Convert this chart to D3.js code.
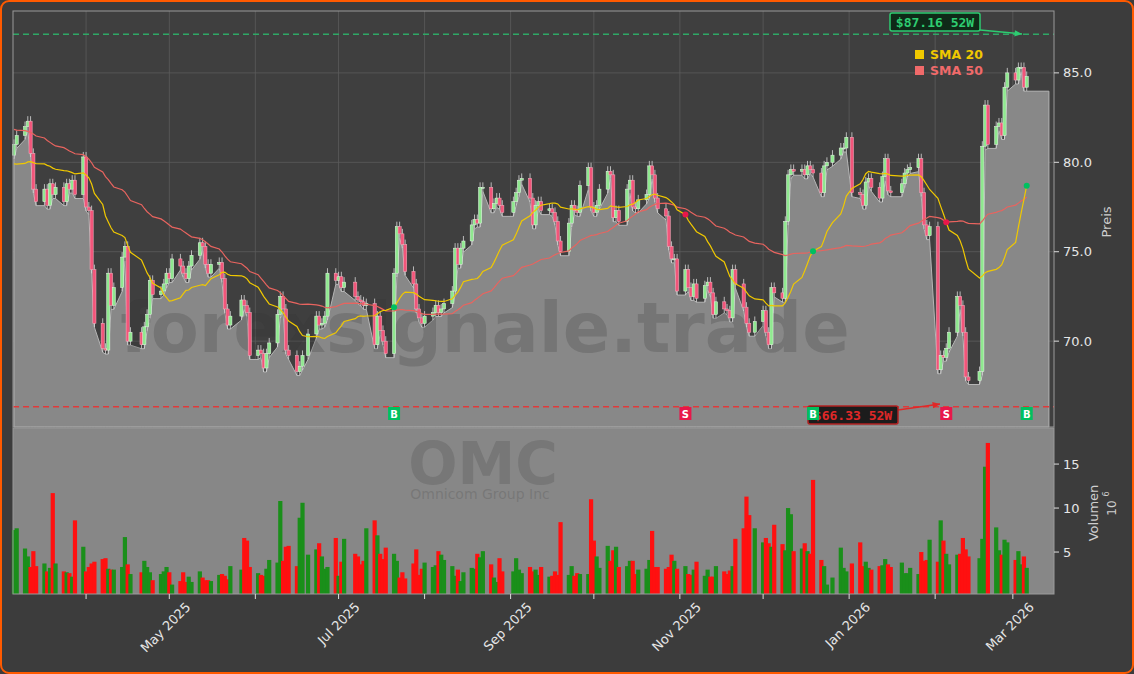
<!DOCTYPE html>
<html><head><meta charset="utf-8">
<script src="https://cdn.jsdelivr.net/npm/d3@7"></script>
<style>html,body{margin:0;padding:0;background:#3c3c3c;}svg{display:block;font-family:"DejaVu Sans",sans-serif;}</style>
</head><body><svg id="c" width="1134" height="674"></svg>
<script>
// ---- data (OMC daily closes) ----
const historyCloses = [83.2,83.8,84.1,83.5,82.9,83.4,84.0,84.6,84.2,83.7,83.1,82.6,83.0,83.5,82.8,82.2,82.7,83.3,83.9,84.3,83.6,82.9,82.4,82.0,82.6,83.1,82.5,82.0,81.6,82.2,
  81.8,81.2,80.6,80.1,79.6,79.1,78.7,79.2,79.8,80.3,79.9,79.4,78.9,79.5,80.0,79.7,79.2,79.8,80.4];
const closesMar25 = [81,81.5,82,82.3,80.5,78.5,77.8,78.5,77.6,78.8,78.2,78.6,77.8,78.8,78.5,79,78.2,80.3];
const closesApr25 = [77.5,77.3,74,71,69.6,69.5,73.8,72,73,74.7,75.3,70,70.5,69.8,70.8,71.5,73.4,72.6,72.8,73.2,73.8];
const closesMay25 = [73.5,74.6,74.2,73.8,73.5,74.2,74.8,75.5,75.3,74.3,73.8,74.3,74.4,73.5,71.8,70.9,71.4,72.3,72,71.6,69.2];
const closesJun25 = [69.5,69.3,68.5,69.3,69.9,71.5,72.5,71.8,69.5,69.2,68.3,68.6,69.2,70.4,71.4,70.9,71,71.4,73.8,73.4];
const closesJulOct25 = [73.6,73,73.3,
  72.5,72.3,72.2,72,72.1,69.8,71.4,70.6,70,69.3,
  73.8,76.4,76,75.4,73.9,73.2,71.8,71.3,71,71.4,
  71.6,72,71.6,71.8,72.1,72.8,75.2,74.3,75.2,75.6,
  76.5,76.8,76.6,78.6,78.6,77.4,77.7,78,77.6,77.2,
  77.8,78.3,79,79.1,78,76.5,77.6,77.8,77.3,77.4,
  77.2,76.7,75.6,75,76.6,77.6,77.3,77.2,78.7,79.7,
  77.5,77.2,77.6,78.5,79.5,79.3,76.9,77.3,76.7,78.5,
  79,77.5,77.4,77.9,78.2,79.8,79.3,78,77.4,77,
  75.3,74.6,74.6,72.8];
const closesNovDec25 = [74,73,72.5,73.2,72.4,73.1,73.3,72.7,71.5,72.2,
  71.8,71.7,71.3,74.0,73.2,71.9,71,70.5,71.1,71.7,
  70.5,69.8,73,72.7,72.4,76.7,79.3,79.6,79.5,79.6,
  79.3,79.8,79.6,79.4,78.3,79.8,80,80.4,80.8,80.8,81.4];
const closesJan26 = [78.3,78.2,77.6,78.9,79.1,78.6,78.0,79.2,80.2,78.4,78.3,78.8,79.4,79.6,79.7,80.2,78.3,76.5,75.9,76.4];
const closesFeb26 = [68.4,69.2,69.1,69.6,70.5,72.5,72,70.5,68,67.8,68.3,80.9,83.2,81,82,82.2,81.5,84.2,85];
const closesMar26 = [84.6,85.3,85.3,84.2,84.8];
const volumesA = [7.5,7.7,5.4,4.5,3.3,5.1,3.4,3.7,2.8,3.2,11.7,3.7,2.8,2.7,2.6,2.2,8.6,5.6,2.8,3.3,
  3.7,3.9,4.2,4.3,3.1,3.0,3.0,3.3,6.7,3.6,2.5,2.7,4.0,3.3,2.7,1.8,2.5,2.8,3.3,2.7,
  1.3,1.7,2.7,1.6,2.2,1.6,2.8,2.1,1.8,1.8,1.7,2.4,2.5,2.3,1.9,3.4,3.0,6.6,6.3,3.3,
  2.6,2.4,2.3,3.1,4.1,3.8,10.8,4.0,5.6,5.7,3.4,8.9,10.6,4.7,5.3,6.0,4.5,3.1,3.3,6.6,
  2.3,3.9,6.5,4.8,4.5,3.6,4.0,7.7,8.6,6.9,4.8,4.2,5.5,4.8,4.0,2.1,2.7,2.0,3.7,5.3,
  2.4,3.1,3.8,3.3,3.5,5.1,4.7,4.1,3.4,2.3,3.0,1.7,2.7,3.2,3.1,4.8,4.4,5.1,3.6,2.1,
  1.6,4.3,2.8,2.8,4.3,3.0,2.6,3.3];
const volumesB = [2.8,3.0,2.4,3.3,2.2,2.3,2.8,2.4,8.4,2.4,3.4,2.3,2.6,2.5,2.5,11.0,6.3,4.5,3.2,5.7,
  4.0,5.2,5.6,3.3,3.4,4.0,4.0,2.5,3.0,3.1,4.1,7.4,3.3,3.3,3.1,3.3,4.7,4.0,3.1,3.4,
  2.5,2.4,3.0,3.9,2.3,3.0,2.2,2.2,3.4,2.8,2.5,2.9,3.4,6.5,7.7,11.3,9.2,7.7,6.1,6.6,6.0,
  5.6,8.1,5.9,5.2,10.0,9.3,5.1,5.4,6.0,5.1,4.8,13.2,4.1,3.4,1.3,2.1,5.5,3.2,2.8,3.7,
  6.1,3.4,3.9,3.2,3.0,3.4,3.5,4.2,3.6,3.3,3.8,2.6,2.6,3.2,2.5,5.0,4.0,4.1,6.4,3.9,
  8.6,6.3,4.8,3.6,4.7,4.8,6.6,5.3,4.5,4.3,6.5,14.7,17.4,7.8,5.2,4.7,6.4,6.1,4.1,5.1,3.6,4.5,3.2];
const holidays = ["2025-04-18","2025-05-26","2025-06-19","2025-07-04","2025-09-01","2025-11-27","2025-12-25","2026-01-01","2026-01-19","2026-02-16"];
const signals = [{d:"2025-07-21",t:"B"},{d:"2025-11-03",t:"S"},{d:"2025-12-19",t:"B"},{d:"2026-02-05",t:"S"},{d:"2026-03-06",t:"B"}];
const high52 = 87.16, low52 = 66.33;
const priceTicks = [70,75,80,85];
const volTicks = [5,10,15];

// ---- build series ----
const closes = [].concat(closesMar25,closesApr25,closesMay25,closesJun25,closesJulOct25,closesNovDec25,closesJan26,closesFeb26,closesMar26);
const volumes = volumesA.concat(volumesB);
const fmt = d3.timeFormat("%Y-%m-%d"), parse = d3.timeParse("%Y-%m-%d");
const dates = [];
for (let d = new Date(2025,2,6); dates.length < closes.length; d = d3.timeDay.offset(d,1)) {
  const wd = d.getDay(); if (wd===0||wd===6||holidays.includes(fmt(d))) continue; dates.push(new Date(d));
}
const all = historyCloses.concat(closes), H = historyCloses.length;
const sma = n => closes.map((c,i)=>d3.mean(all.slice(H+i-n+1,H+i+1)));
const sma20 = sma(20), sma50 = sma(50);
const data = closes.map((c,i)=>({d:dates[i],o:i?closes[i-1]:historyCloses[H-1],c,v:volumes[i],s20:sma20[i],s50:sma50[i]}));

// ---- layout ----
const svg = d3.select("#c");
const L=13,R=1054,PT=11,PB=427,VT=428,VB=594;
svg.append("rect").attr("x",1).attr("y",1).attr("width",1132).attr("height",672).attr("rx",8).attr("fill","#3c3c3c").attr("stroke","#ff5a00").attr("stroke-width",2);
const x = d3.scaleTime().domain([new Date(2025,2,5,16),new Date(2026,2,15,20)]).range([L,R]);
const y = d3.scaleLinear().domain([65.2,88.46]).range([PB,PT]);
const yv = d3.scaleLinear().domain([0.23,19.1]).range([VB,VT]);
const months = d3.timeMonth.range(new Date(2025,3,1),new Date(2026,2,2));

// price panel
svg.append("rect").attr("x",L).attr("y",PT).attr("width",R-L).attr("height",PB-PT).attr("fill","#3f3f3f");
const g = svg.append("g");
months.forEach(m=>g.append("line").attr("x1",x(m)).attr("x2",x(m)).attr("y1",PT).attr("y2",PB).attr("stroke","#5c5c5c").attr("stroke-width",0.8));
priceTicks.forEach(t=>g.append("line").attr("x1",L).attr("x2",R).attr("y1",y(t)).attr("y2",y(t)).attr("stroke","#5c5c5c").attr("stroke-width",0.8));
// area under the bodies' lower edge, offset down by the wick length (styling)
const lastX = new Date(2026,2,14);
const areaData = data.map(p=>({d:p.d,v:Math.min(p.o,p.c)})); areaData.push({d:lastX,v:areaData[areaData.length-1].v});
g.append("path").datum(areaData).attr("fill","#888888").attr("stroke","#b5b5b5").attr("stroke-width",1)
 .attr("transform","translate(0,4)")
 .attr("d",d3.area().x(p=>x(p.d)).y0(PB-4).y1(p=>y(p.v)));
// watermark
g.append("text").attr("x",485).attr("y",352).attr("text-anchor","middle").attr("font-size",70).attr("font-weight","bold").attr("fill","rgba(50,50,50,0.22)").text("forexsignale.trade");
// dashed 52w lines
g.append("line").attr("x1",L).attr("x2",R).attr("y1",y(high52)).attr("y2",y(high52)).attr("stroke","#2fa866").attr("stroke-width",1.5).attr("stroke-dasharray","6,4");
g.append("line").attr("x1",L).attr("x2",R).attr("y1",y(low52)).attr("y2",y(low52)).attr("stroke","#e03a3a").attr("stroke-width",1.5).attr("stroke-dasharray","6,4");
// candles
data.forEach(p=>{
  const up = p.c>=p.o, top=y(Math.max(p.o,p.c)), bot=y(Math.min(p.o,p.c));
  g.append("line").attr("x1",x(p.d)).attr("x2",x(p.d)).attr("y1",top-5).attr("y2",bot+4).attr("stroke","#d8d8d8").attr("stroke-width",0.8);
  g.append("rect").attr("x",x(p.d)-1.6).attr("y",top).attr("width",3.2).attr("height",Math.max(1,bot-top))
   .attr("fill",up?"#8fe88f":"#f2557a").attr("stroke",up?"#e8f8e8":"#f8b0c0").attr("stroke-width",0.5);
});
// SMAs
g.append("path").datum(data).attr("fill","none").attr("stroke","#e8645f").attr("stroke-width",1.2).attr("d",d3.line().x(p=>x(p.d)).y(p=>y(p.s50)));
g.append("path").datum(data).attr("fill","none").attr("stroke","#f0c800").attr("stroke-width",1.2).attr("d",d3.line().x(p=>x(p.d)).y(p=>y(p.s20)));
// frame
svg.append("rect").attr("x",L).attr("y",PT).attr("width",R-L).attr("height",PB-PT).attr("fill","none").attr("stroke","#9a9a9a");

// 52w labels
function tag(txt,cx,cy,col,bg,bd,ax1,ay1,ax2,ay2){
  svg.append("line").attr("x1",ax1).attr("y1",ay1).attr("x2",ax2).attr("y2",ay2).attr("stroke",col).attr("stroke-width",1.5);
  const ang=Math.atan2(ay2-ay1,ax2-ax1);
  const pts=[[ax2,ay2],[ax2-8*Math.cos(ang-0.4),ay2-8*Math.sin(ang-0.4)],[ax2-8*Math.cos(ang+0.4),ay2-8*Math.sin(ang+0.4)]];
  svg.append("polygon").attr("points",pts.map(q=>q.join(",")).join(" ")).attr("fill",col);
  svg.append("rect").attr("x",cx-45).attr("y",cy-9).attr("width",90).attr("height",18).attr("rx",2).attr("fill",bg).attr("stroke",bd).attr("stroke-width",1.5);
  svg.append("text").attr("x",cx).attr("y",cy+4.5).attr("text-anchor","middle").attr("font-family","DejaVu Sans Mono, monospace").attr("font-weight","bold").attr("font-size",13).attr("fill",col).text(txt);
}
tag("$87.16 52W",935,22,"#2ecc71","#0f2a18","#2ecc71",980,30,1022,34);
tag("$66.33 52W",853,415,"#e02828","#1c1c1c","#b02020",898,410,940,404);

// signals
signals.forEach(s=>{
  const dt=parse(s.d), p=data.find(q=>fmt(q.d)===s.d)||data[data.length-1], col=s.t==="B"?"#00c060":"#e8174a";
  svg.append("circle").attr("cx",x(dt)).attr("cy",y(p.s20)).attr("r",3).attr("fill",col);
  svg.append("rect").attr("x",x(dt)-6).attr("y",407).attr("width",12).attr("height",13).attr("fill",col);
  svg.append("text").attr("x",x(dt)).attr("y",417.5).attr("text-anchor","middle").attr("font-size",10).attr("font-weight","bold").attr("fill","#fff").text(s.t);
});
// legend
[["SMA 20","#f0c800",54],["SMA 50","#f06a6a",70]].forEach(([t,c,yy])=>{
  svg.append("rect").attr("x",915).attr("y",yy-4).attr("width",9).attr("height",9).attr("fill",c);
  svg.append("text").attr("x",930).attr("y",yy+4.5).attr("font-size",12.5).attr("font-weight","bold").attr("fill",c).text(t);
});
// price axis
priceTicks.forEach(t=>{
  svg.append("line").attr("x1",R).attr("x2",R+5).attr("y1",y(t)).attr("y2",y(t)).attr("stroke","#ddd");
  svg.append("text").attr("x",R+9).attr("y",y(t)+4.5).attr("font-size",13).attr("fill","#e6e6e6").text(t.toFixed(1));
});
svg.append("text").attr("transform","translate(1111,222) rotate(-90)").attr("text-anchor","middle").attr("font-size",13).attr("fill","#cfcfcf").text("Preis");

// volume panel
svg.append("rect").attr("x",L).attr("y",VT).attr("width",R-L).attr("height",VB-VT).attr("fill","#878787");
svg.append("text").attr("x",483).attr("y",484).attr("text-anchor","middle").attr("font-size",58).attr("font-weight","bold").attr("fill","rgba(90,90,90,0.35)").text("OMC");
svg.append("text").attr("x",480).attr("y",499).attr("text-anchor","middle").attr("font-size",14).attr("fill","rgba(90,90,90,0.35)").text("Omnicom Group Inc");
data.forEach(p=>{ if(p.v==null) return;
  svg.append("rect").attr("x",x(p.d)-2.1).attr("y",yv(p.v)).attr("width",4.2).attr("height",VB-yv(p.v)).attr("fill",p.c>=p.o?"#1a8f1a":"#ff1010");
});
svg.append("rect").attr("x",L).attr("y",VT).attr("width",R-L).attr("height",VB-VT).attr("fill","none").attr("stroke","#9a9a9a");
volTicks.forEach(t=>{
  svg.append("line").attr("x1",R).attr("x2",R+5).attr("y1",yv(t)).attr("y2",yv(t)).attr("stroke","#ddd");
  svg.append("text").attr("x",R+9).attr("y",yv(t)+4.5).attr("font-size",13).attr("fill","#e6e6e6").text(t);
});
svg.append("text").attr("transform","translate(1098,513) rotate(-90)").attr("text-anchor","middle").attr("font-size",13).attr("fill","#cfcfcf").text("Volumen");
svg.append("text").attr("transform","translate(1116,508) rotate(-90)").attr("text-anchor","middle").attr("font-size",12).attr("fill","#cfcfcf").text("10");
svg.append("text").attr("transform","translate(1109,494) rotate(-90)").attr("text-anchor","middle").attr("font-size",8).attr("fill","#cfcfcf").text("6");

// x axis
const lf = d3.timeFormat("%b %Y");
months.forEach((m,i)=>{
  svg.append("line").attr("x1",x(m)).attr("x2",x(m)).attr("y1",VB).attr("y2",VB+5).attr("stroke","#ddd");
  if (m.getMonth()%2===0)
    svg.append("text").attr("transform",`translate(${x(m)+22},${VB+14}) rotate(-45)`).attr("text-anchor","end").attr("font-size",13).attr("fill","#e6e6e6").text(lf(m));
});
</script></body></html>
